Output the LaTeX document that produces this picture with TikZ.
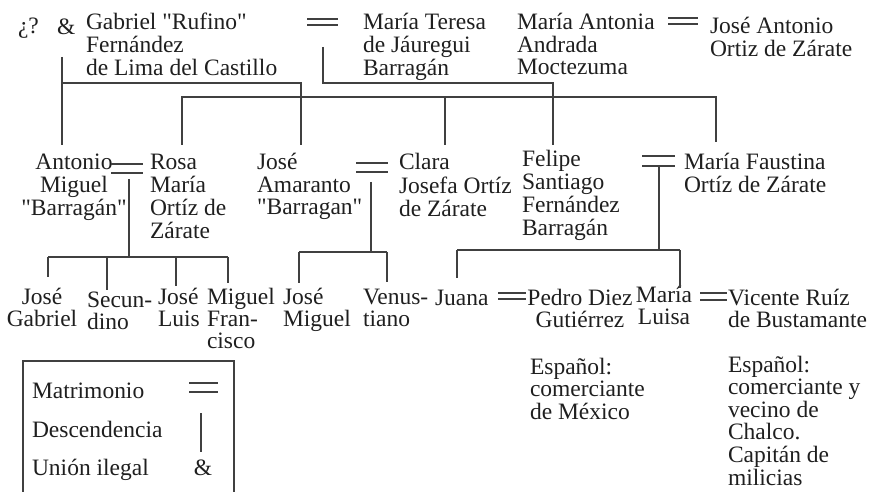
\documentclass[tikz,border=0pt]{standalone}
\usepackage{fontspec}
\setmainfont{Liberation Serif}
\usetikzlibrary{calc}
\newcommand{\Lt}[1]{\begin{tabular}[t]{@{}l@{}}#1\end{tabular}}
\newcommand{\Ct}[1]{\begin{tabular}[t]{@{}c@{}}#1\end{tabular}}
\newcommand{\qq}{\textquotedbl}
\newcommand{\marr}[4]{\draw[ln] (#1,#3) -- (#2,#3); \draw[ln] (#1,#4) -- (#2,#4);}
\tikzset{
  txt/.style={inner sep=0pt, outer sep=0pt, text=black!88, font=\fontsize{23.5}{22}\selectfont},
  lft/.style={txt, anchor=base west},
  ctr/.style={txt, anchor=base},
  ln/.style={draw=black!75, line width=1.1pt},
}
\begin{document}
\begin{tikzpicture}[x=1pt,y=-1pt]
\useasboundingbox (0,0) rectangle (871,492);

% ---- generation 1
\node[lft] (unk) at (18,34) {¿?};
\node[lft] (amp) at (57,35) {\&};
\node[lft] (gab) at (86,30) {\Lt{Gabriel \qq Rufino\qq\\Fernández\\de Lima del Castillo}};
\node[lft] (mt) at (363,30) {\Lt{María Teresa\\de Jáuregui\\Barragán}};
\node[lft] (ma) at (517,30) {\Lt{María Antonia\\Andrada\\Moctezuma}};
\node[lft] (ja) at (710,34) {\Lt{José Antonio\\Ortiz de Zárate}};
\marr{307}{338}{19}{25}
\marr{668}{698}{18}{24}

% ---- generation 2
\node[ctr] (am) at (74,170) {\Ct{Antonio\\Miguel\\\qq Barragán\qq}};
\node[lft] (rm) at (150,170) {\Lt{Rosa\\María\\Ortíz de\\Zárate}};
\node[lft] (jam) at (257,170) {\Lt{José\\Amaranto\\\qq Barragan\qq}};
\node[lft] (cj) at (399,170) {\Lt{Clara\\Josefa Ortíz\\de Zárate}};
\node[lft] (fs) at (522,167) {\Lt{Felipe\\Santiago\\Fernández\\Barragán}};
\node[lft] (mf) at (684,170) {\Lt{María Faustina\\Ortíz de Zárate}};
\marr{111}{143}{164}{173}
\marr{356}{388}{163}{172}
\marr{642}{675}{156}{166}

% ---- generation 3
\node[ctr] (jg) at (42,304) {\Ct{José\\Gabriel}};
\node[lft] (sec) at (87,307) {\Lt{Secun-\\dino}};
\node[lft] (jl) at (158,304) {\Lt{José\\Luis}};
\node[lft] (mfr) at (207,304) {\Lt{Miguel\\Fran-\\cisco}};
\node[lft] (jm) at (283,304) {\Lt{José\\Miguel}};
\node[lft] (ven) at (363,304) {\Lt{Venus-\\tiano}};
\node[lft] (jua) at (435,305) {Juana};
\node[ctr] (pdg) at (580,305) {\Ct{Pedro Diez\\Gutiérrez}};
\node[ctr] (ml) at (664,302) {\Ct{María\\Luisa}};
\node[lft] (vrb) at (728,305) {\Lt{Vicente Ruíz\\de Bustamante}};
\marr{498}{526}{293}{299}
\marr{700}{727}{293}{300}

% ---- notes
\node[lft] (n1) at (530,374) {\Lt{Español:\\comerciante\\de México}};
\node[lft] (n2) at (728,372) {\Lt{Español:\\comerciante y\\vecino de\\Chalco.\\Capitán de\\milicias}};

% ---- descent lines
\coordinate (a0) at (62,57);
\coordinate (a1) at (62,83);
\coordinate (a2) at (62,145);
\coordinate (b1) at (301,83);
\coordinate (b2) at (301,145);
\draw[ln] (a0) -- (a2);
\draw[ln] (a1) -- (b1) -- (b2);

\coordinate (c0) at (323,47);
\coordinate (c1) at (323,83);
\coordinate (c2) at (553,83);
\coordinate (c3) at (553,145);
\draw[ln] (c0) -- (c1) -- (c2) -- (c3);

\coordinate (d0) at (182,145);
\coordinate (d1) at (182,97);
\coordinate (d2) at (716,97);
\coordinate (d3) at (716,142);
\coordinate (d4) at (445,97);
\coordinate (d5) at (445,145);
\draw[ln] (d0) -- (d1) -- (d2) -- (d3);
\draw[ln] (d4) -- (d5);

\coordinate (e0) at (129,179);
\coordinate (e1) at (129,257);
\coordinate (e2) at (48,257);
\coordinate (e3) at (228,257);
\draw[ln] (e0) -- (e1);
\draw[ln] (e2) -- (e3);
\draw[ln] (e2) -- ++(0,20);
\draw[ln] (107,257) -- (107,290);
\draw[ln] (176,257) -- (176,286);
\draw[ln] (e3) -- ++(0,26);

\coordinate (f0) at (371,182);
\coordinate (f1) at (371,252);
\coordinate (f2) at (299,252);
\coordinate (f3) at (387,252);
\draw[ln] (f0) -- (f1);
\draw[ln] (f2) -- (f3);
\draw[ln] (f2) -- ++(0,31);
\draw[ln] (f3) -- ++(0,30);

\coordinate (g0) at (659,166);
\coordinate (g1) at (659,250);
\coordinate (g2) at (457,250);
\coordinate (g3) at (680,250);
\draw[ln] (g0) -- (g1);
\draw[ln] (g2) -- (g3);
\draw[ln] (g2) -- ++(0,28);
\draw[ln] (g3) -- ++(0,38);

% ---- legend
\draw[ln] (23,492) -- (23,361) -- (234,361) -- (234,492);
\node[lft] (lg1) at (32,398) {Matrimonio};
\node[lft] (lg2) at (32,437) {Descendencia};
\node[lft] (lg3) at (32,475) {Unión ilegal};
\marr{189}{218}{383}{392}
\draw[ln] (201,413) -- (201,452);
\node[ctr] (lg4) at (203,475) {\&};
\end{tikzpicture}
\end{document}
